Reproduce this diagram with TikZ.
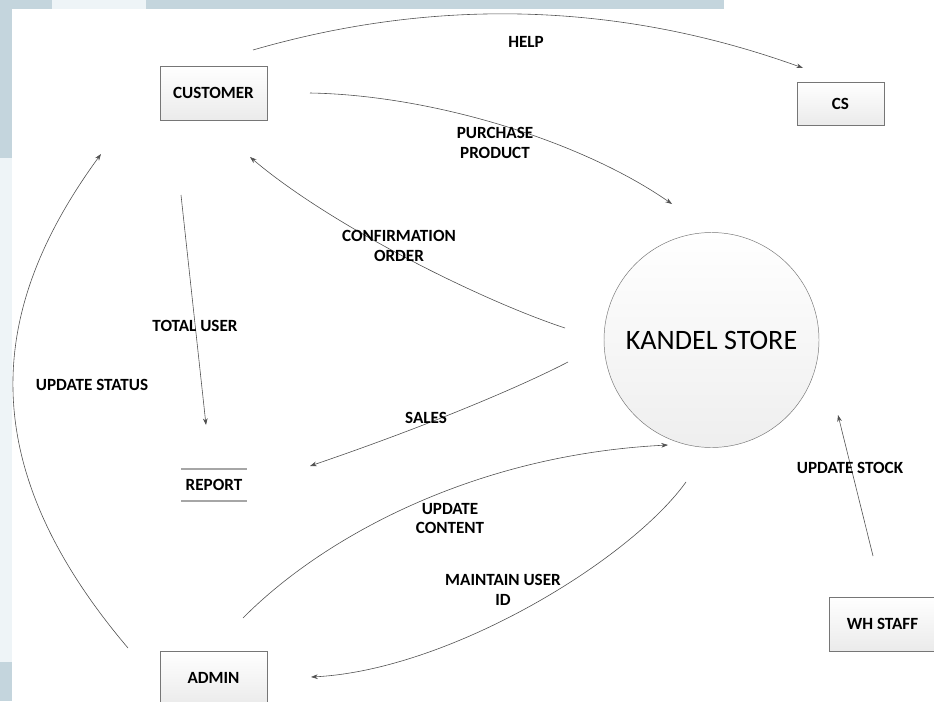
\documentclass[tikz,border=0pt]{standalone}
\usepackage{fontspec}
\setmainfont{Carlito}
\usetikzlibrary{arrows.meta,calc,shadows}
\definecolor{dfdLine}{RGB}{80,80,80}
\definecolor{dfdEdge}{RGB}{118,118,118}
\definecolor{dfdBg}{RGB}{196,213,221}
\definecolor{dfdPale}{RGB}{238,244,247}
\tikzset{
  entity/.style={rectangle,draw=dfdEdge,top color=white,bottom color=gray!16,
    minimum width=#1,minimum height=1.62cm,inner sep=0pt,
    font=\fontsize{14.6}{17}\selectfont\bfseries,
    drop shadow={shadow xshift=0.6pt,shadow yshift=-0.6pt,opacity=0.25}},
  entity/.default=3.21cm,
  process/.style={circle,draw=dfdEdge,top color=white,bottom color=gray!13,
    minimum size=6.45cm,inner sep=0pt,font=\fontsize{24}{28}\selectfont},
  datastore/.style={rectangle,minimum width=1.95cm,minimum height=0.96cm,
    inner sep=0pt,font=\fontsize{14.6}{17}\selectfont\bfseries},
  storeline/.style={draw=gray!70,line width=1.3pt},
  flow/.style={-{Stealth[length=2mm,width=1.4mm]},draw=dfdLine,line width=0.5pt},
  lbl/.style={font=\fontsize{14.6}{17}\selectfont\bfseries,align=center,inner sep=0pt}
}

\begin{document}
\begin{tikzpicture}[x=0.03cm,y=-0.03cm]
  \useasboundingbox (0,0) rectangle (934,701);
  \clip (0,0) rectangle (934,701);
  % slide background
  \fill[white] (0,0) rectangle (934,701);
  \fill[dfdBg] (0,0) rectangle (724,9);
  \fill[dfdBg] (0,0) rectangle (12,158);
  \fill[dfdPale] (0,158) rectangle (12,662);
  \fill[dfdBg] (0,662) rectangle (12,701);
  \fill[dfdPale] (52,0) rectangle (146,9);

  % entities and process
  \node[entity] (cust) at (213.5,93) {CUSTOMER};
  \node[entity=2.61cm, minimum height=1.29cm] (cs) at (840.5,103.5) {CS};
  \node[entity] (admin) at (213.5,678) {ADMIN};
  \node[entity] (wh) at (882.5,624) {WH STAFF};
  \node[process] (kandel) at (711.5,340) {KANDEL STORE};
  \node[datastore] (report) at (214,485) {REPORT};
  \draw[storeline] (report.north west) -- (report.north east);
  \draw[storeline] (report.south west) -- (report.south east);

  % flow end points
  \coordinate (help-s) at (253,50);
  \coordinate (help-e) at (803,68);
  \coordinate (buy-s) at (310,93);
  \coordinate (buy-e) at (672,204);
  \coordinate (conf-s) at (565,328);
  \coordinate (conf-e) at (250,157);
  \coordinate (total-s) at (181,195);
  \coordinate (total-e) at (206,425);
  \coordinate (sales-s) at (568,362);
  \coordinate (sales-e) at (310,466);
  \coordinate (content-s) at (243,618);
  \coordinate (content-e) at (668,445);
  \coordinate (userid-s) at (686,482);
  \coordinate (userid-e) at (311,677);
  \coordinate (stock-s) at (873,556);
  \coordinate (stock-e) at (838,415);
  \coordinate (status-s) at (128,648);
  \coordinate (status-e) at (101,154);

  % data flows
  \draw[flow] (help-s) .. controls (436,-3) and (620,2) .. (help-e);
  \draw[flow] (buy-s) .. controls (430,95) and (580,140) .. (buy-e);
  \draw[flow] (conf-s) .. controls (480,300) and (330,225) .. (conf-e);
  \draw[flow] (total-s) -- (total-e);
  \draw[flow] (sales-s) .. controls (510,392) and (410,432) .. (sales-e);
  \draw[flow] (content-s) .. controls (320,540) and (470,455) .. (content-e);
  \draw[flow] (userid-s) .. controls (630,560) and (450,670) .. (userid-e);
  \draw[flow] (stock-s) -- (stock-e);
  \draw[flow] (status-s) .. controls (-34,457) and (-7,302) .. (status-e);

  % flow labels
  \node[lbl] (l-help) at (526,42) {HELP};
  \node[lbl] (l-buy) at (495,143) {PURCHASE\\PRODUCT};
  \node[lbl] (l-conf) at (399,245.5) {CONFIRMATION\\ORDER};
  \node[lbl] (l-total) at (195,326) {TOTAL USER};
  \node[lbl] (l-sales) at (426,418) {SALES};
  \node[lbl] (l-content) at (450,518.5) {UPDATE\\CONTENT};
  \node[lbl] (l-userid) at (503,590) {MAINTAIN USER\\ID};
  \node[lbl] (l-stock) at (850,468) {UPDATE STOCK};
  \node[lbl] (l-status) at (92,385) {UPDATE STATUS};
\end{tikzpicture}
\end{document}
